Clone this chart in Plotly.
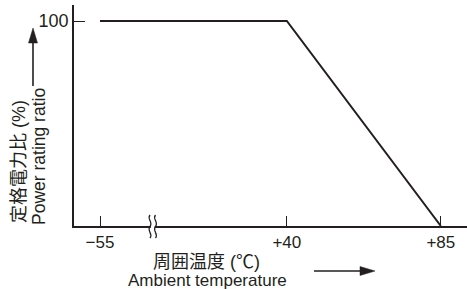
import plotly.graph_objects as go

# ---- data ----
temps = [-55, 40, 85]          # ambient temperature (°C)
ratio = [100, 100, 0]          # power rating ratio (%)
x_tick_temps = [-55, 40, 85]
x_tick_labels = ["−55", "+40", "+85"]
y_tick_vals = [100]
y_tick_labels = ["100"]

INK = "#231f20"
FONT = "Liberation Sans, Noto Sans CJK JP, sans-serif"
W, H = 467, 289
L, R, T, B = 74, 0, 5, 63

# broken axis: region below +40 °C is compressed
BREAK_SCALE = 0.5747
def xpos(t):
    return t if t >= 40 else 40 - (40 - t) * BREAK_SCALE

PW, PH = W - L - R, H - T - B
def px(x):
    return (x - L) / PW
def py(y):
    return (H - B - y) / PH

fig = go.Figure()
fig.add_trace(go.Scatter(
    x=[xpos(t) for t in temps], y=ratio, mode="lines",
    line=dict(color=INK, width=2), hoverinfo="skip", showlegend=False,
))

shapes = []
# break squiggles on x axis
for bx in (150, 155.5):
    d = (f"M {px(bx)},{py(215)} C {px(bx-3.5)},{py(219)} {px(bx+3.5)},{py(222)} {px(bx)},{py(226.5)} "
         f"C {px(bx-3.5)},{py(231)} {px(bx+3.5)},{py(234)} {px(bx)},{py(238)}")
    shapes.append(dict(type="path", xref="paper", yref="paper", path=d,
                       line=dict(color=INK, width=1.3), layer="above"))
shapes.insert(0, dict(type="rect", xref="paper", yref="paper",
                      x0=px(150.8), x1=px(154.7), y0=py(224), y1=py(228.5),
                      fillcolor="white", line=dict(width=0), layer="above"))

# y arrow (up)
shapes.append(dict(type="line", xref="paper", yref="paper",
                   x0=px(33), x1=px(33), y0=py(86), y1=py(40),
                   line=dict(color=INK, width=1.6)))
shapes.append(dict(type="path", xref="paper", yref="paper",
                   path=f"M {px(28.5)},{py(43)} L {px(37.5)},{py(43)} L {px(33)},{py(28)} Z",
                   fillcolor=INK, line=dict(color=INK, width=0.5)))
# x arrow (right)
shapes.append(dict(type="line", xref="paper", yref="paper",
                   x0=px(314), x1=px(362), y0=py(271), y1=py(271),
                   line=dict(color=INK, width=1.6)))
shapes.append(dict(type="path", xref="paper", yref="paper",
                   path=f"M {px(360)},{py(266.5)} L {px(360)},{py(275.5)} L {px(375)},{py(271)} Z",
                   fillcolor=INK, line=dict(color=INK, width=0.5)))

annotations = [
    dict(text="定格電力比 (%)", x=px(19), y=py(162), textangle=-90,
         font=dict(size=18, family=FONT, color=INK)),
    dict(text="Power rating ratio", x=px(39), y=py(157), textangle=-90,
         font=dict(size=17.5, family=FONT, color=INK)),
    dict(text="周囲温度 (℃)", x=px(206), y=py(262),
         font=dict(size=18, family=FONT, color=INK)),
    dict(text="Ambient temperature", x=px(207), y=py(280),
         font=dict(size=17, family=FONT, color=INK)),
]
for a in annotations:
    a.update(xref="paper", yref="paper", showarrow=False,
             xanchor="center", yanchor="middle")

s = 154 / 45.0
x0 = xpos(-55) - 26 / s
fig.update_layout(
    width=W, height=H, margin=dict(l=L, r=R, t=T, b=B, pad=0),
    paper_bgcolor="white", plot_bgcolor="white",
    font=dict(family=FONT, size=17, color=INK),
    xaxis=dict(range=[x0, x0 + PW / s], showgrid=False, zeroline=False,
               showline=True, linecolor=INK, linewidth=1.5,
               tickmode="array", tickvals=[xpos(t) for t in x_tick_temps],
               ticktext=x_tick_labels, ticks="inside", ticklen=10,
               tickwidth=1.3, tickcolor=INK,
               tickfont=dict(size=17, family=FONT, color=INK)),
    yaxis=dict(range=[0, PH / 2.05], showgrid=False, zeroline=False,
               showline=True, linecolor=INK, linewidth=1.5,
               tickmode="array", tickvals=y_tick_vals, ticktext=y_tick_labels,
               ticks="inside", ticklen=11, tickwidth=1.3, tickcolor=INK,
               tickfont=dict(size=18, family=FONT, color=INK)),
    shapes=shapes, annotations=annotations, showlegend=False,
)
fig.write_html("out.html", config={"displayModeBar": False},
               post_script="document.body.style.margin='0';document.body.style.overflow='hidden';")
